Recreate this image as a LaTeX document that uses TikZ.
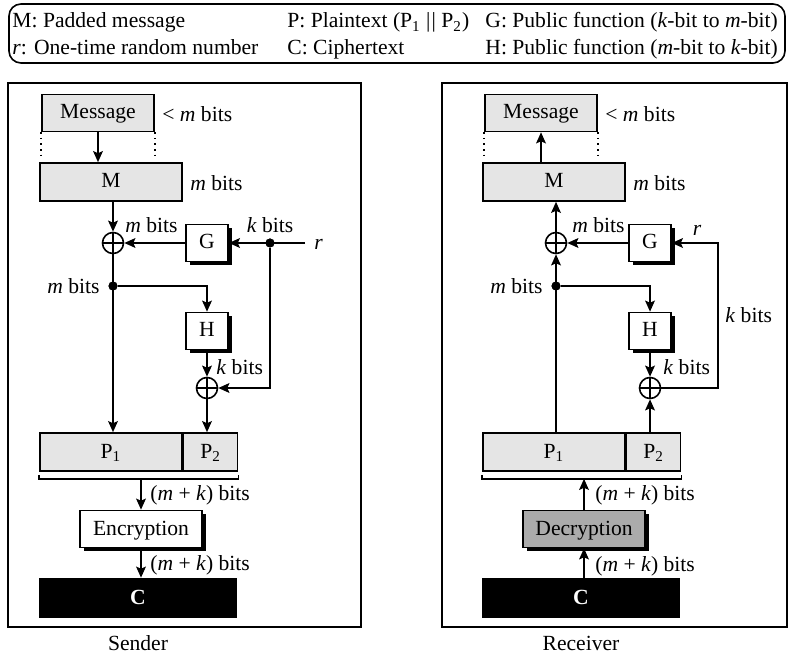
\documentclass[tikz,border=0pt]{standalone}
\usepackage{fontspec}
\setmainfont{Liberation Serif}
\usetikzlibrary{arrows.meta,shadows}

\begin{document}
\begin{tikzpicture}[x=0.5pt,y=-0.5pt,
  font=\fontsize{10.8}{13}\selectfont,
  conn/.style={line width=1pt,-{Stealth[length=5.5pt,width=4.8pt,inset=1pt]}},
  frame/.style={line width=0.8pt},
  box/.style={draw,line width=0.8pt,minimum height=18.5pt,inner sep=0pt,text height=7.5pt,text depth=1.5pt},
  greybox/.style={box,fill=black!10},
  fnbox/.style={box,fill=white,drop shadow={shadow xshift=1.8pt,shadow yshift=-1.8pt,fill=black,opacity=1}},
  xor/.style={circle,draw,fill=white,line width=0.8pt,minimum size=10.5pt,inner sep=0pt,
    path picture={\draw[line width=0.7pt] (path picture bounding box.north) -- (path picture bounding box.south)
      (path picture bounding box.west) -- (path picture bounding box.east);}},
  dot/.style={circle,fill,minimum size=4.5pt,inner sep=0pt},
  lbl/.style={inner sep=0pt}]
\useasboundingbox (0,0) rectangle (790,656);

\draw[frame,rounded corners=6pt] (9,4) rectangle (785,63);
\node[lbl,anchor=base west] (lgm) at (12,28) {M: Padded message};
\node[lbl,anchor=base west] (lgr) at (12,55) {\textit{r}: One-time random number};
\node[lbl,anchor=base west] (lgp) at (287,28) {P: Plaintext (P\textsubscript{1} \textbar\kern0.6pt\textbar{} P\textsubscript{2})};
\node[lbl,anchor=base west] (lgc) at (287,55) {C: Ciphertext};
\node[lbl,anchor=base west] (lgg) at (485,28) {G: Public function (\textit{k}-bit to \textit{m}-bit)};
\node[lbl,anchor=base west] (lgh) at (485,55) {H: Public function (\textit{m}-bit to \textit{k}-bit)};

\foreach \xa/\xb/\xc/\name in {8/361/138/Sender,442/787/581/Receiver}{
  \draw[frame] (\xa,83) rectangle (\xb,627);
  \node (\name) at (\xc,643) {\name};
}

% sender
\node[greybox,minimum width=56pt] (smsg) at (98,113) {Message};
\node[greybox,minimum width=71pt,minimum height=19pt] (sm) at (111,182) {M};
\node[xor] (sx1) at (113,243) {};
\node[fnbox,minimum width=21pt] (sg) at (207,243) {G};
\node[dot] (sd1) at (270,243) {};
\coordinate (sr) at (305,243);
\node[dot] (sd2) at (113,286) {};
\node[fnbox,minimum width=21pt] (sh) at (207,331) {H};
\node[xor] (sx2) at (207,388) {};
\node[greybox,minimum width=71pt,minimum height=19pt] (sp1) at (111,452) {P\textsubscript{1}};
\node[greybox,minimum width=27pt,minimum height=19pt,anchor=west] (sp2) at (sp1.east) {P\textsubscript{2}};
\node[fnbox,minimum width=61pt] (senc) at (141,529) {Encryption};
\node[box,fill=black,text=white,minimum width=98pt,minimum height=19.5pt] (sc) at (138,598) {\textbf{C}};
\path (senc.north |- sp1.south) ++(0,7) coordinate (sbr);

\draw[dotted,frame] (smsg.south west) -- ++(0,26);
\draw[dotted,frame] (smsg.south east) -- ++(0,26);
\draw[conn] (smsg.south) -- (smsg.south |- sm.north);
\draw[conn] (sm.south -| sx1) -- (sx1);
\draw[conn] (sg) -- (sx1);
\draw[conn] (sr) -- (sg);
\draw[conn] (sx1) -- (sx1 |- sp1.north);
\draw[conn] (sd2) -| (sh);
\draw[conn] (sh) -- (sx2);
\draw[conn] (sd1) |- (sx2);
\draw[conn] (sx2) -- (sx2 |- sp2.north);
\draw[frame] ([yshift=-1.5pt]sp1.south west) -- ([yshift=-3.5pt]sp1.south west)
  -- ([yshift=-3.5pt]sp2.south east) -- ([yshift=-1.5pt]sp2.south east);
\draw[conn] (sbr) -- (senc);
\draw[conn] (senc) -- (senc |- sc.north);
\node[dot] at (sd1) {};
\node[dot] at (sd2) {};

\node[lbl,anchor=west] at (162,114) {<~\textit{m} bits};
\node[lbl,anchor=west] at (190,183) {\textit{m} bits};
\node[lbl,anchor=base west] at (125,233) {\textit{m} bits};
\node[lbl,anchor=base] at (270,233) {\textit{k} bits};
\node[lbl,anchor=west] at (314,244) {\textit{r}};
\node[lbl,anchor=east] at (100,286) {\textit{m} bits};
\node[lbl,anchor=west] at (216,367) {\textit{k} bits};
\node[lbl,anchor=west] at (150,495) {(\textit{m} + \textit{k}) bits};
\node[lbl,anchor=west] at (150,565) {(\textit{m} + \textit{k}) bits};

% receiver
\begin{scope}[shift={(443,0)}]
\node[greybox,minimum width=56pt] (rmsg) at (98,113) {Message};
\node[greybox,minimum width=71pt,minimum height=19pt] (rm) at (111,182) {M};
\node[xor] (rx1) at (113,243) {};
\node[fnbox,minimum width=21pt] (rg) at (207,243) {G};
\node[dot] (rd2) at (113,286) {};
\node[fnbox,minimum width=21pt] (rh) at (207,331) {H};
\node[xor] (rx2) at (207,388) {};
\coordinate (rk) at (275,388);
\node[greybox,minimum width=71pt,minimum height=19pt] (rp1) at (111,452) {P\textsubscript{1}};
\node[greybox,minimum width=27pt,minimum height=19pt,anchor=west] (rp2) at (rp1.east) {P\textsubscript{2}};
\node[fnbox,fill=black!33,minimum width=61pt] (rdec) at (141,529) {Decryption};
\node[box,fill=black,text=white,minimum width=98pt,minimum height=19.5pt] (rc) at (138,598) {\textbf{C}};
\path (rdec.north |- rp1.south) ++(0,7) coordinate (rbr);

\draw[dotted,frame] (rmsg.south west) -- ++(0,26);
\draw[dotted,frame] (rmsg.south east) -- ++(0,26);
\draw[conn] (rmsg.south |- rm.north) -- (rmsg.south);
\draw[conn] (rx1) -- (rx1 |- rm.south);
\draw[conn] (rg) -- (rx1);
\draw[conn] (rp1.north -| rx1) -- (rx1);
\draw[conn] (rd2) -| (rh);
\draw[conn] (rh) -- (rx2);
\draw[conn] (rx2) -- (rk) |- (rg);
\draw[conn] (rp2.north -| rx2) -- (rx2);
\draw[frame] ([yshift=-1.5pt]rp1.south west) -- ([yshift=-3.5pt]rp1.south west)
  -- ([yshift=-3.5pt]rp2.south east) -- ([yshift=-1.5pt]rp2.south east);
\draw[conn] (rdec) -- (rbr);
\draw[conn] (rc.north -| rdec) -- (rdec);
\node[dot] at (rd2) {};

\node[lbl,anchor=west] at (162,114) {<~\textit{m} bits};
\node[lbl,anchor=west] at (190,183) {\textit{m} bits};
\node[lbl,anchor=base west] at (129,233) {\textit{m} bits};
\node[lbl,anchor=base] at (254,236) {\textit{r}};
\node[lbl,anchor=west] at (282,315) {\textit{k} bits};
\node[lbl,anchor=east] at (100,286) {\textit{m} bits};
\node[lbl,anchor=west] at (220,367) {\textit{k} bits};
\node[lbl,anchor=west] at (152,495) {(\textit{m} + \textit{k}) bits};
\node[lbl,anchor=west] at (152,566) {(\textit{m} + \textit{k}) bits};
\end{scope}
\end{tikzpicture}
\end{document}
